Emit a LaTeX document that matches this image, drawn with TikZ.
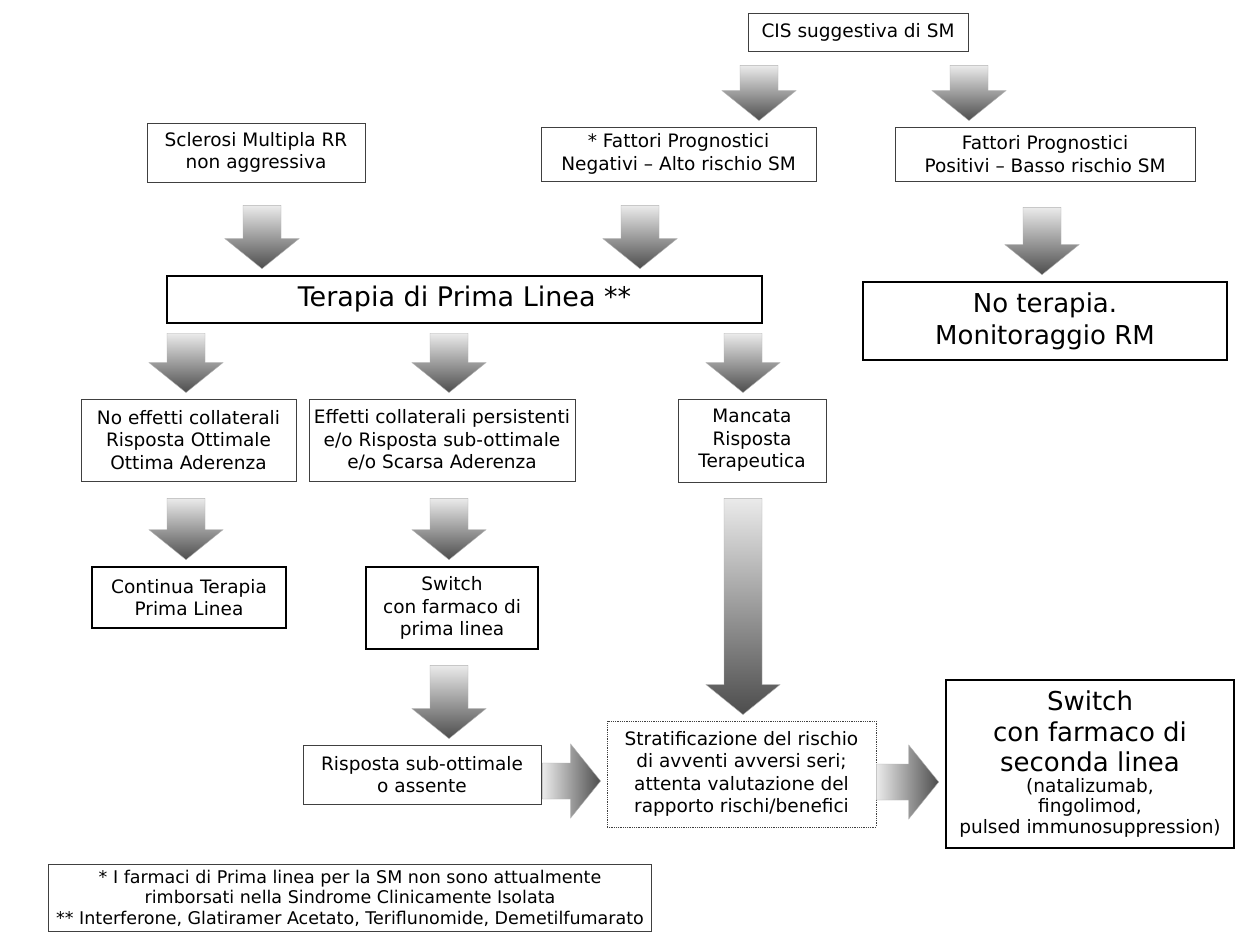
\documentclass[tikz,border=0pt]{standalone}
\usepackage{fontspec}
\setmainfont{DejaVu Sans}
\usetikzlibrary{calc}

\newcommand\fssmall{\fontsize{18.5}{22.5}\selectfont}
\newcommand\fsbig{\fontsize{26}{32}\selectfont}
\newcommand\fster{\fontsize{27}{32}\selectfont}
\newcommand\fsfoot{\fontsize{17.5}{20.5}\selectfont}

% fat grey arrow pointing down: [gap] x, from node, to node
\newcommand\fatdown[4][12]{%
  \path[fatv] let \p1=(#3.south), \p2=(#4.north) in
    (#2pt-19pt,\y1-#1pt) -- (#2pt+19pt,\y1-#1pt) -- (#2pt+19pt,\y2+36pt)
    -- (#2pt+37pt,\y2+36pt) -- (#2pt,\y2+6pt) -- (#2pt-37pt,\y2+36pt)
    -- (#2pt-19pt,\y2+36pt) -- cycle;}
% fat grey arrow pointing right: [gap] y, from node, to node
\newcommand\fatright[4][0]{%
  \path[fath] let \p1=(#3.east), \p2=(#4.west) in
    (\x1+#1pt,-#2pt+18pt) -- (\x2-36pt,-#2pt+18pt) -- (\x2-36pt,-#2pt+37pt)
    -- (\x2-6pt,-#2pt) -- (\x2-36pt,-#2pt-37pt) -- (\x2-36pt,-#2pt-18pt)
    -- (\x1+#1pt,-#2pt-18pt) -- cycle;}

\begin{document}
\begin{tikzpicture}[x=1pt,y=-1pt,
    box/.style={draw=black!75, line width=0.8pt, align=center, inner sep=2pt, font=\fssmall},
    thickbox/.style={draw=black, line width=2.6pt, align=center, inner sep=2pt},
    fatv/.style={top color=black!8, bottom color=black!70, draw=black!30, line width=0.4pt},
    fath/.style={left color=black!8, right color=black!70, draw=black!30, line width=0.4pt}]
  \fill[white] (0,0) rectangle (1237,941);

  \node[box, minimum width=220pt, minimum height=38pt] (cis) at (858,32) {CIS suggestiva di SM};
  \node[box, minimum width=218pt, minimum height=59pt] (scl) at (256,152.5) {Sclerosi Multipla RR\\non aggressiva};
  \node[box, minimum width=275pt, minimum height=54pt] (neg) at (678.5,154) {* Fattori Prognostici\\Negativi – Alto rischio SM};
  \node[box, minimum width=300pt, minimum height=54pt] (pos) at (1045,154) {Fattori Prognostici\\Positivi – Basso rischio SM};

  \node[thickbox, font=\fster, minimum width=595pt, minimum height=47pt] (ter) at (464.5,299.5) {Terapia di Prima Linea **};
  \node[thickbox, font=\fsbig, minimum width=364pt, minimum height=78pt] (nother) at (1045,321) {No terapia.\\Monitoraggio RM};

  \node[box, minimum width=215pt, minimum height=82pt] (noeff) at (188.5,440) {No effetti collaterali\\Risposta Ottimale\\Ottima Aderenza};
  \node[box, minimum width=266pt, minimum height=82pt] (eff) at (442,440) {Effetti collaterali persistenti\\e/o Risposta sub-ottimale\\e/o Scarsa Aderenza};
  \node[box, minimum width=148pt, minimum height=83pt] (manc) at (752,440.5) {Mancata\\Risposta\\Terapeutica};

  \node[thickbox, font=\fssmall, minimum width=194pt, minimum height=61pt] (cont) at (189,597.5) {Continua Terapia\\Prima Linea};
  \node[thickbox, font=\fssmall, minimum width=172pt, minimum height=82pt] (swone) at (452,608) {Switch\\con farmaco di\\prima linea};

  \node[box, minimum width=238pt, minimum height=59pt] (risp) at (422,774.5) {Risposta sub-ottimale\\o assente};
  \node[box, densely dotted, minimum width=269pt, minimum height=106pt] (strat) at (741.5,774)
    {Stratificazione del rischio\\di avventi avversi seri;\\attenta valutazione del\\rapporto rischi/benefici};
  \node[thickbox, font=\fssmall, minimum width=288pt, minimum height=168pt] (swtwo) at (1090,764)
    {{\fsbig Switch}\\[8pt]{\fsbig con farmaco di}\\[8pt]{\fsbig seconda linea}\\[-2pt]
     (natalizumab,\\[-2pt]fingolimod,\\[-2pt]pulsed immunosuppression)};

  \node[box, font=\fsfoot, inner xsep=8pt, inner ysep=5pt] (foot) at (350,898)
    {* I farmaci di Prima linea per la SM non sono attualmente\\rimborsati nella Sindrome Clinicamente Isolata\\** Interferone, Glatiramer Acetato, Teriflunomide, Demetilfumarato};

  \fatdown[14]{759}{cis}{neg}
  \fatdown[14]{969}{cis}{pos}
  \fatdown[23]{262}{scl}{ter}
  \fatdown[24]{640}{neg}{ter}
  \fatdown[26]{1042}{pos}{nother}
  \fatdown[9]{186}{ter}{noeff}
  \fatdown[9]{449}{ter}{eff}
  \fatdown[9]{743}{ter}{manc}
  \fatdown[17]{186}{noeff}{cont}
  \fatdown[17]{449}{eff}{swone}
  \fatdown[15]{449}{swone}{risp}
  \fatdown[16]{743}{manc}{strat}
  \fatright[1]{781}{risp}{strat}
  \fatright[0]{782}{strat}{swtwo}
\end{tikzpicture}
\end{document}
